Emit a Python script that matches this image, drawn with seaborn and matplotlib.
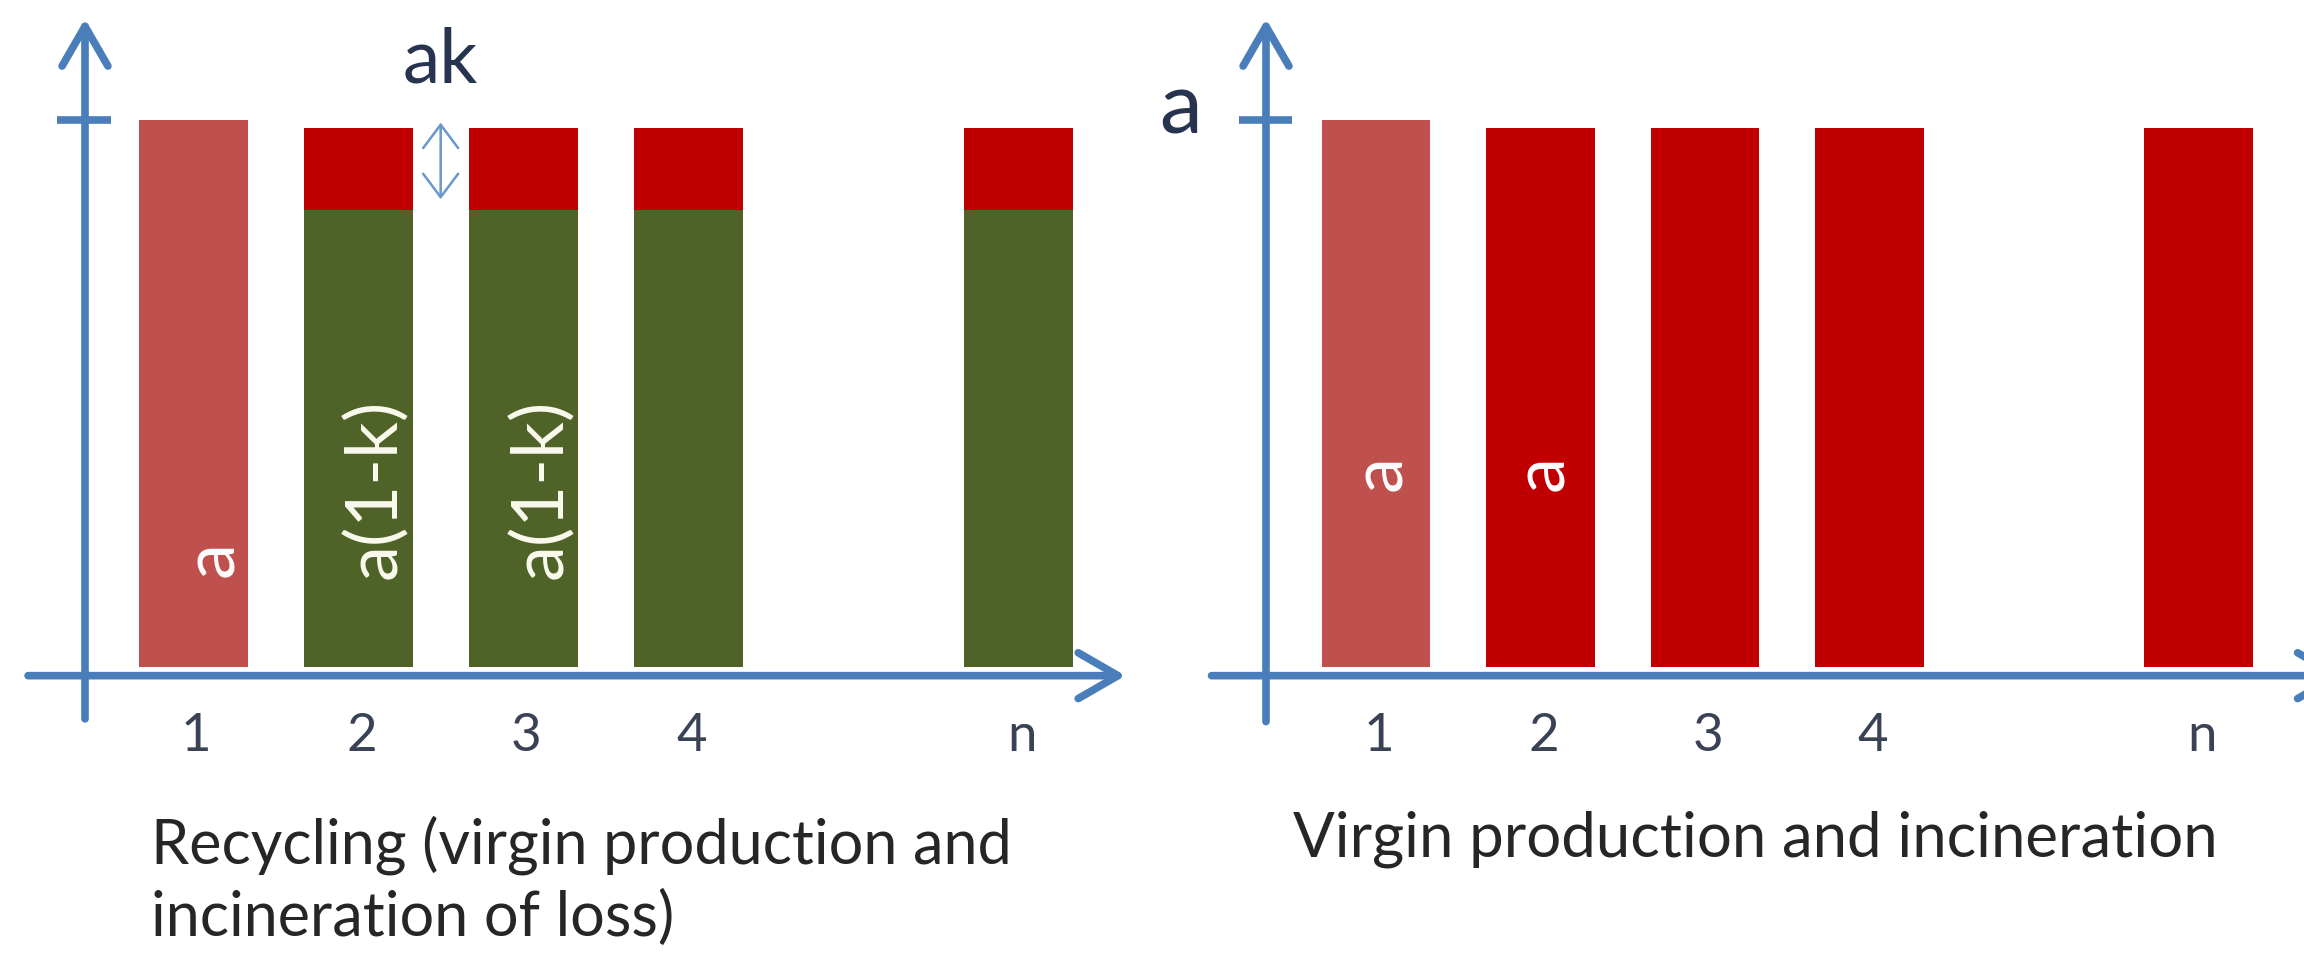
import matplotlib
matplotlib.use("Agg")
import matplotlib.pyplot as plt
import seaborn as sns

sns.set_theme(style="white")
plt.rcParams['font.family'] = ['Lato', 'DejaVu Sans']

# data
periods = [1, 2, 3, 4, 6]
period_labels = ["1", "2", "3", "4", "n"]
first_amount = [1.0]            # a, first production
later_total = [0.985, 0.985, 0.985, 0.985]   # a for periods 2..n
recycled = [0.835, 0.835, 0.835, 0.835]      # a(1-k)
loss_top = 0.985
loss_bottom = 0.835

LIGHT_RED = "#C0504D"
RED = "#C00000"
GREEN = "#4F6228"
AXIS = "#4A7EBB"
TXT = "#3A4255"
NAVY = "#26344F"

fig = plt.figure(figsize=(23.04, 9.54), dpi=100)
ax1 = fig.add_axes([0, 0, 0.5, 1])
ax2 = fig.add_axes([0.5, 0, 0.5, 1])


def arrow(ax, x0, y0, x1, y1, lw=5.5, scale=22, hl=1.3, hw=0.75, color=AXIS, style="->"):
    ax.annotate("", xy=(x1, y1), xytext=(x0, y0), annotation_clip=False,
                arrowprops=dict(arrowstyle=f"{style},head_length={hl},head_width={hw}",
                                color=color, lw=lw, mutation_scale=scale,
                                shrinkA=0, shrinkB=0))


def panel(ax, later_color, stacked):
    sns.barplot(x=periods[:1], y=first_amount, color=LIGHT_RED, native_scale=True,
                width=0.66, errorbar=None, linewidth=0, saturation=1, ax=ax)
    sns.barplot(x=periods[1:], y=later_total, color=later_color, native_scale=True,
                width=0.66, errorbar=None, linewidth=0, saturation=1, ax=ax)
    if stacked:
        sns.barplot(x=periods[1:], y=recycled, color=GREEN, native_scale=True,
                    width=0.66, errorbar=None, linewidth=0, saturation=1, ax=ax)
    for p, lab in zip(periods, period_labels):
        ax.text(p + 0.02, -0.125, lab, ha="center", va="center", fontsize=38, color=TXT)


# Recycling panel
panel(ax1, RED, True)
ax1.set_xlim(-0.17, 6.81)
ax1.set_ylim(-0.523, 1.221)
arrow(ax1, 0.345, -0.095, 0.345, 1.185)
arrow(ax1, 0.0, -0.016, 6.65, -0.016)
ax1.plot([0.176, 0.503], [1.0, 1.0], color=AXIS, lw=5.5, solid_capstyle="butt")
arrow(ax1, 2.5, 0.855, 2.5, 0.995, lw=1.8, scale=14, hl=1.2, hw=0.9,
      color="#6A97CC", style="<->")
ax1.text(2.5, 1.11, "ak", ha="center", va="center", fontsize=54, color=NAVY)
ax1.text(1.12, 0.20, "a", rotation=90, ha="center", va="center", fontsize=52, color="white")
ax1.text(2.10, 0.327, "a(1-k)", rotation=90, ha="center", va="center", fontsize=52, color="#FAFAEE")
ax1.text(3.11, 0.327, "a(1-k)", rotation=90, ha="center", va="center", fontsize=52, color="#FAFAEE")
ax1.text(0.745, -0.324, "Recycling (virgin production and", ha="left", va="center",
         fontsize=44, color="#262626")
ax1.text(0.745, -0.457, "incineration of loss)", ha="left", va="center",
         fontsize=44, color="#262626")
ax1.axis("off")

# Virgin production panel
panel(ax2, RED, False)
ax2.set_xlim(-0.362, 6.641)
ax2.set_ylim(-0.523, 1.221)
arrow(ax2, 0.331, -0.10, 0.331, 1.185)
arrow(ax2, 0.0, -0.016, 6.89, -0.016)
ax2.plot([0.167, 0.489], [1.0, 1.0], color=AXIS, lw=5.5, solid_capstyle="butt")
ax2.text(-0.185, 1.02, "a", ha="center", va="center", fontsize=62, color=NAVY)
ax2.text(1.03, 0.356, "a", rotation=90, ha="center", va="center", fontsize=52, color="white")
ax2.text(2.015, 0.356, "a", rotation=90, ha="center", va="center", fontsize=52, color="white")
ax2.text(0.495, -0.314, "Virgin production and incineration", ha="left", va="center",
         fontsize=44.5, color="#262626")
ax2.axis("off")

fig.savefig("out.png", dpi=100)
